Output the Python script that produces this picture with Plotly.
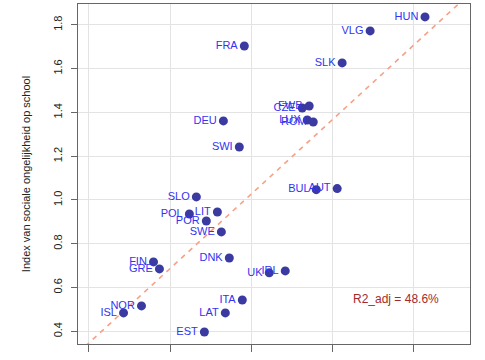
import plotly.graph_objects as go

countries = ["HUN", "VLG", "FRA", "SLK", "CZE", "FWB", "LUX", "ROM", "DEU", "SWI",
             "BUL", "AUT", "SLO", "POL", "LIT", "POR", "SWE", "FIN", "GRE", "DNK",
             "UK", "IRL", "NOR", "ISL", "ITA", "LAT", "EST"]
x_vals = [2.140, 1.464, -0.086, 1.119, 0.627, 0.713, 0.689, 0.763, -0.344, -0.148,
          0.800, 1.058, -0.677, -0.763, -0.418, -0.554, -0.369, -1.205, -1.132, -0.271,
          0.221, 0.418, -1.353, -1.574, -0.111, -0.320, -0.578]
y_vals = [1.836, 1.772, 1.703, 1.626, 1.420, 1.429, 1.365, 1.356, 1.361, 1.242,
          1.047, 1.052, 1.014, 0.936, 0.945, 0.904, 0.854, 0.717, 0.685, 0.735,
          0.667, 0.676, 0.516, 0.484, 0.543, 0.484, 0.397]

line_intercept = 1.027
line_slope = 0.340
r2_text = "R2_adj = 48.6%"

x_ticks = [-2, -1, 0, 1, 2]
y_ticks = [0.4, 0.6, 0.8, 1.0, 1.2, 1.4, 1.6, 1.8]
x_range = [-2.135, 2.694]
y_range = [0.342, 1.895]

FONT = "Liberation Sans, Arial, sans-serif"

fig = go.Figure()

lx = [x_range[0], x_range[1]]
ly = [line_intercept + line_slope * v for v in lx]
fig.add_trace(go.Scatter(x=lx, y=ly, mode="lines",
                         line=dict(color="#f7a085", width=1.6, dash="5px,5px"),
                         hoverinfo="skip", showlegend=False))

fig.add_trace(go.Scatter(
    x=x_vals, y=y_vals, mode="markers+text", text=countries,
    textposition="middle left",
    textfont=dict(family=FONT, size=11, color="#3333f0"),
    marker=dict(size=9, color="#3a3aa0"),
    showlegend=False, cliponaxis=False))

fig.add_annotation(x=1.784, y=0.548, text=r2_text, showarrow=False,
                   font=dict(family=FONT, size=12, color="#a52a2a"),
                   xanchor="center", yanchor="middle")

fig.update_layout(
    width=485, height=360,
    margin=dict(l=78, r=15, t=4, b=16),
    plot_bgcolor="white", paper_bgcolor="white",
    font=dict(family=FONT, size=11, color="#222222"),
)
fig.update_xaxes(range=x_range, tickvals=x_ticks, showticklabels=False,
                 automargin=False,
                 showgrid=True, gridcolor="#e3e3e3", gridwidth=1,
                 zeroline=False, showline=True, linecolor="#666666", linewidth=1,
                 mirror=True, ticks="outside", ticklen=7, tickcolor="#666666")
fig.update_yaxes(range=y_range, tickvals=y_ticks, automargin=False,
                 ticktext=[f"{v:.1f}" for v in y_ticks], tickangle=-90,
                 ticklabelstandoff=5,
                 showgrid=True, gridcolor="#e3e3e3", gridwidth=1,
                 zeroline=False, showline=True, linecolor="#666666", linewidth=1,
                 mirror=True, ticks="outside", ticklen=6, tickcolor="#666666",
                 tickfont=dict(family=FONT, size=11, color="#222222"),
                 title=dict(text="Index van sociale ongelijkheid op school",
                            font=dict(family=FONT, size=11, color="#222222"),
                            standoff=18))

fig.write_html("out.html", config={"displayModeBar": False},
               post_script="document.body.style.margin='0px';")
